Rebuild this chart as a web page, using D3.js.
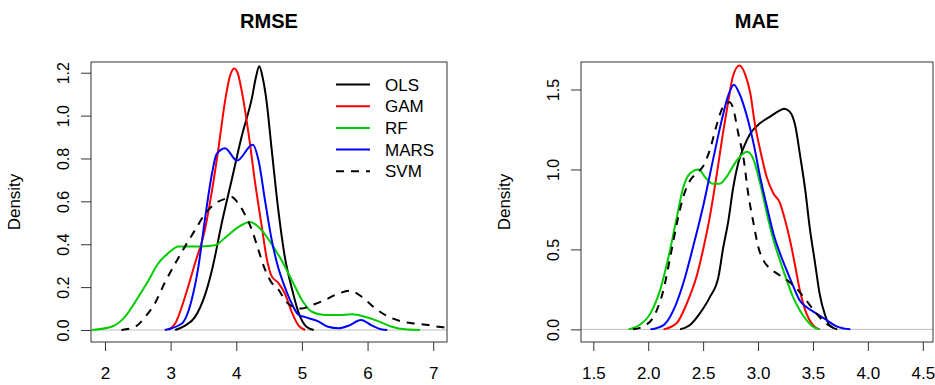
<!DOCTYPE html>
<html>
<head>
<meta charset="utf-8">
<script src="https://cdn.jsdelivr.net/npm/d3@7/dist/d3.min.js"></script>
<style>
    body { margin: 0; background: #fff; }
    svg text { font-family: "Liberation Sans", Arial, sans-serif; fill: #000; }
</style>
</head>
<body>
<svg id="chart" width="935" height="385"></svg>
<script>
/*global d3*/
var seriesNames = ['OLS', 'GAM', 'RF', 'MARS', 'SVM'];

// density curves: [value, density]
var rmseOLS = [[3.07, 0], [3.22, 0.02], [3.37, 0.06], [3.52, 0.16], [3.63, 0.28], [3.78, 0.5], [3.93, 0.7],
    [4.08, 0.9], [4.24, 1.085], [4.3, 1.18], [4.35, 1.23], [4.4, 1.18], [4.46, 1.07], [4.54, 0.84], [4.64, 0.56],
    [4.74, 0.34], [4.85, 0.19], [4.95, 0.08], [5.07, 0.015], [5.18, 0]];
var rmseGAM = [[2.97, 0], [3.07, 0.03], [3.22, 0.155], [3.37, 0.31], [3.52, 0.465], [3.63, 0.65], [3.73, 0.85],
    [3.83, 1.07], [3.9, 1.18], [3.97, 1.22], [4.03, 1.19], [4.08, 1.12], [4.19, 0.91], [4.29, 0.68], [4.39, 0.48],
    [4.46, 0.34], [4.54, 0.25], [4.64, 0.22], [4.74, 0.17], [4.85, 0.08], [4.95, 0.02], [5.05, 0]];
var rmseRF = [[1.8, 0], [2.1, 0.015], [2.3, 0.06], [2.51, 0.155], [2.66, 0.23], [2.81, 0.31], [2.97, 0.36],
    [3.12, 0.39], [3.22, 0.39], [3.47, 0.39], [3.68, 0.395], [3.83, 0.43], [4.03, 0.48], [4.21, 0.504],
    [4.39, 0.465], [4.54, 0.4], [4.69, 0.325], [4.85, 0.23], [5.0, 0.14], [5.15, 0.085], [5.35, 0.07],
    [5.56, 0.07], [5.76, 0.073], [5.96, 0.062], [6.17, 0.04], [6.37, 0.015], [6.57, 0.003], [6.8, 0]];
var rmseMARS = [[2.91, 0], [3.17, 0.03], [3.32, 0.14], [3.42, 0.29], [3.52, 0.51], [3.63, 0.73], [3.7, 0.82],
    [3.83, 0.848], [4.01, 0.79], [4.25, 0.864], [4.34, 0.79], [4.44, 0.6], [4.54, 0.42], [4.64, 0.29],
    [4.74, 0.2], [4.85, 0.12], [4.95, 0.07], [5.05, 0.06], [5.25, 0.04], [5.4, 0.015], [5.56, 0.008],
    [5.71, 0.02], [5.9, 0.047], [6.07, 0.02], [6.22, 0.002], [6.3, 0]];
var rmseSVM = [[2.25, 0], [2.46, 0.015], [2.61, 0.06], [2.76, 0.124], [2.91, 0.22], [3.07, 0.31], [3.22, 0.39],
    [3.37, 0.465], [3.52, 0.54], [3.68, 0.59], [3.83, 0.612], [3.93, 0.62], [4.03, 0.59], [4.13, 0.54],
    [4.24, 0.465], [4.34, 0.37], [4.44, 0.28], [4.54, 0.22], [4.64, 0.19], [4.74, 0.14], [4.85, 0.11],
    [5.0, 0.1], [5.15, 0.116], [5.35, 0.14], [5.56, 0.17], [5.73, 0.183], [5.91, 0.155], [6.12, 0.1],
    [6.32, 0.062], [6.52, 0.04], [6.73, 0.03], [6.93, 0.023], [7.08, 0.015], [7.25, 0.01]];

var maeOLS = [[2.29, 0], [2.38, 0.027], [2.47, 0.1], [2.56, 0.2], [2.64, 0.33], [2.68, 0.5], [2.73, 0.68],
    [2.77, 0.87], [2.82, 1.04], [2.87, 1.14], [2.93, 1.225], [3.02, 1.29], [3.11, 1.33], [3.2, 1.37],
    [3.24, 1.38], [3.29, 1.36], [3.34, 1.27], [3.38, 1.1], [3.43, 0.87], [3.47, 0.64], [3.52, 0.41],
    [3.56, 0.225], [3.61, 0.09], [3.65, 0.027], [3.72, 0]];
var maeGAM = [[2.14, 0], [2.26, 0.04], [2.35, 0.16], [2.44, 0.33], [2.5, 0.5], [2.56, 0.7], [2.62, 0.95],
    [2.68, 1.225], [2.73, 1.43], [2.77, 1.58], [2.83, 1.65], [2.88, 1.6], [2.93, 1.475], [2.97, 1.29],
    [3.02, 1.12], [3.08, 0.95], [3.14, 0.85], [3.2, 0.79], [3.24, 0.7], [3.29, 0.56], [3.34, 0.39],
    [3.38, 0.246], [3.44, 0.1], [3.5, 0.027], [3.56, 0]];
var maeRF = [[1.82, 0], [1.92, 0.027], [2.02, 0.1], [2.11, 0.25], [2.2, 0.5], [2.26, 0.7], [2.32, 0.89],
    [2.38, 0.975], [2.46, 1.0], [2.52, 0.95], [2.59, 0.91], [2.65, 0.91], [2.71, 0.95], [2.79, 1.04],
    [2.85, 1.09], [2.9, 1.11], [2.96, 1.06], [3.02, 0.91], [3.08, 0.725], [3.14, 0.56], [3.2, 0.43],
    [3.26, 0.31], [3.32, 0.2], [3.38, 0.12], [3.44, 0.06], [3.5, 0.017], [3.56, 0]];
var maeMARS = [[2.02, 0], [2.14, 0.027], [2.23, 0.12], [2.32, 0.29], [2.41, 0.52], [2.5, 0.77], [2.59, 1.06],
    [2.67, 1.31], [2.73, 1.465], [2.78, 1.53], [2.83, 1.475], [2.9, 1.33], [2.96, 1.16], [3.02, 0.95],
    [3.08, 0.77], [3.14, 0.6], [3.2, 0.475], [3.26, 0.37], [3.32, 0.27], [3.38, 0.18], [3.44, 0.14],
    [3.53, 0.1], [3.62, 0.06], [3.72, 0.017], [3.84, 0]];
var maeSVM = [[1.86, 0], [1.95, 0.017], [2.05, 0.08], [2.14, 0.25], [2.2, 0.45], [2.26, 0.66], [2.32, 0.83],
    [2.38, 0.93], [2.44, 0.975], [2.5, 1.02], [2.56, 1.12], [2.62, 1.27], [2.68, 1.39], [2.74, 1.42],
    [2.77, 1.39], [2.82, 1.225], [2.87, 1.06], [2.91, 0.85], [2.96, 0.66], [3.0, 0.52], [3.05, 0.43],
    [3.11, 0.38], [3.17, 0.35], [3.26, 0.31], [3.35, 0.256], [3.44, 0.18], [3.53, 0.1], [3.62, 0.037],
    [3.72, 0]];

var rmseXTicks = [2, 3, 4, 5, 6, 7];
var rmseYTicks = [0, 0.2, 0.4, 0.6, 0.8, 1.0, 1.2];
var maeXTicks = [1.5, 2.0, 2.5, 3.0, 3.5, 4.0, 4.5];
var maeYTicks = [0, 0.5, 1.0, 1.5];

(function () {
    'use strict';

    var svg = d3.select('#chart'),
        STYLES = {
            OLS: { color: '#000000', dash: null },
            GAM: { color: '#ff0000', dash: null },
            RF: { color: '#00cd00', dash: null },
            MARS: { color: '#0000ff', dash: null },
            SVM: { color: '#000000', dash: '8,7' }
        };

    function drawPanel(p) {
        var g = svg.append('g'),
            x = d3.scaleLinear().domain(p.xDomain).range([p.left, p.right]),
            y = d3.scaleLinear().domain(p.yDomain).range([p.bottom, p.top]),
            clipId = 'clip-' + p.title,
            line = d3.line()
                .x(function (d) { return x(d[0]); })
                .y(function (d) { return y(d[1]); })
                .curve(d3.curveMonotoneX),
            plot;

        g.append('clipPath').attr('id', clipId)
            .append('rect')
            .attr('x', p.left).attr('y', p.top)
            .attr('width', p.right - p.left).attr('height', p.bottom - p.top);

        // title
        g.append('text')
            .attr('x', (p.left + p.right) / 2).attr('y', 27.5)
            .attr('text-anchor', 'middle')
            .style('font-size', '20px').style('font-weight', 'bold')
            .text(p.title);

        // zero line
        g.append('line')
            .attr('x1', p.left).attr('x2', p.right)
            .attr('y1', y(0)).attr('y2', y(0))
            .attr('stroke', '#bebebe').attr('stroke-width', 1);

        plot = g.append('g').attr('clip-path', 'url(#' + clipId + ')');
        p.series.forEach(function (s, i) {
            var st = STYLES[seriesNames[i]];
            plot.append('path')
                .datum(s)
                .attr('d', line)
                .attr('fill', 'none')
                .attr('stroke', st.color)
                .attr('stroke-width', 2)
                .attr('stroke-dasharray', st.dash);
        });

        // x axis
        g.append('g')
            .attr('transform', 'translate(0,' + p.bottom + ')')
            .call(d3.axisBottom(x).tickValues(p.xTicks).tickSize(9).tickPadding(20)
                .tickFormat(p.xFormat))
            .call(function (a) {
                a.select('.domain').remove();
                a.selectAll('line').attr('stroke', '#333');
                a.selectAll('text').style('font-size', '17px').attr('dy', '0.32em').attr('y', 32);
            });

        // y axis, labels rotated like R
        g.append('g')
            .attr('transform', 'translate(' + p.left + ',0)')
            .call(d3.axisLeft(y).tickValues(p.yTicks).tickSize(10).tickFormat(d3.format('.1f')))
            .call(function (a) {
                a.select('.domain').remove();
                a.selectAll('line').attr('stroke', '#333');
                a.selectAll('text')
                    .attr('x', null).attr('dy', null)
                    .attr('text-anchor', 'middle')
                    .attr('transform', 'translate(-22,0) rotate(-90)')
                    .style('font-size', '16px');
            });

        g.append('text')
            .attr('transform', 'translate(' + (p.left - 71) + ',' + ((p.top + p.bottom) / 2) + ') rotate(-90)')
            .attr('text-anchor', 'middle')
            .style('font-size', '17px')
            .text('Density');

        // box
        g.append('rect')
            .attr('x', p.left).attr('y', p.top)
            .attr('width', p.right - p.left).attr('height', p.bottom - p.top)
            .attr('fill', 'none').attr('stroke', '#333').attr('stroke-width', 1);

        return g;
    }

    function drawLegend(g, lx, ly) {
        var rows = g.selectAll('g.legend-row')
            .data(seriesNames)
            .enter().append('g')
            .attr('class', 'legend-row')
            .attr('transform', function (d, i) { return 'translate(' + lx + ',' + (ly + i * 21.7) + ')'; });
        rows.append('line')
            .attr('x1', 0).attr('x2', 34)
            .attr('stroke', function (d) { return STYLES[d].color; })
            .attr('stroke-width', 2)
            .attr('stroke-dasharray', function (d) { return STYLES[d].dash; });
        rows.append('text')
            .attr('x', 49).attr('dy', '0.36em')
            .style('font-size', '17px')
            .text(function (d) { return d; });
    }

    var left = drawPanel({
        title: 'RMSE',
        left: 91, right: 447, top: 62, bottom: 342,
        xDomain: [1.787, 7.21], yDomain: [-0.056, 1.25],
        xTicks: rmseXTicks, yTicks: rmseYTicks,
        xFormat: d3.format('d'),
        series: [rmseOLS, rmseGAM, rmseRF, rmseMARS, rmseSVM]
    });
    drawLegend(left, 336, 84.5);

    drawPanel({
        title: 'MAE',
        left: 581, right: 933, top: 62, bottom: 342,
        xDomain: [1.388, 4.593], yDomain: [-0.079, 1.672],
        xTicks: maeXTicks, yTicks: maeYTicks,
        xFormat: d3.format('.1f'),
        series: [maeOLS, maeGAM, maeRF, maeMARS, maeSVM]
    });
}());
</script>
</body>
</html>
